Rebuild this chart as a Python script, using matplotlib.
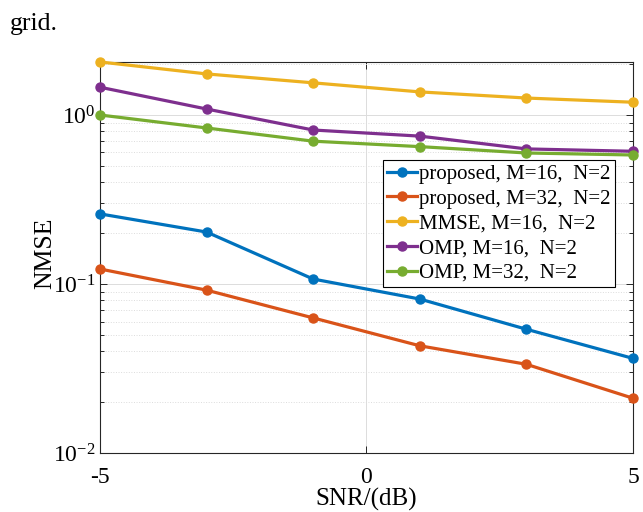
import matplotlib
matplotlib.use("Agg")
import matplotlib.pyplot as plt
from matplotlib.ticker import LogLocator, NullFormatter

plt.rcParams['font.family'] = ['Liberation Serif', 'DejaVu Serif']
plt.rcParams['mathtext.fontset'] = 'custom'
plt.rcParams['mathtext.rm'] = 'Liberation Serif'
plt.rcParams['mathtext.it'] = 'Liberation Serif:italic'
plt.rcParams['axes.unicode_minus'] = False

snr = [-5, -3, -1, 1, 3, 5]
proposed_m16 = [0.26, 0.203, 0.107, 0.0815, 0.054, 0.0363]
proposed_m32 = [0.1227, 0.092, 0.063, 0.0431, 0.0335, 0.0211]
mmse_m16 = [2.06, 1.75, 1.55, 1.37, 1.26, 1.19]
omp_m16 = [1.46, 1.085, 0.815, 0.75, 0.63, 0.61]
omp_m32 = [1.0, 0.838, 0.70, 0.65, 0.596, 0.58]

labels = ['proposed, M=16,  N=2', 'proposed, M=32,  N=2', 'MMSE, M=16,  N=2',
          'OMP, M=16,  N=2', 'OMP, M=32,  N=2']
colors = ['#0072BD', '#D95319', '#EDB120', '#7E2F8E', '#77AC30']
series = [proposed_m16, proposed_m32, mmse_m16, omp_m16, omp_m32]

fig = plt.figure(figsize=(6.43, 5.12), dpi=100)
ax = fig.add_axes([0.1555, 0.1152, 0.8289, 0.7638])

for ys, c, lab in zip(series, colors, labels):
    ax.plot(snr, ys, '-o', color=c, lw=2.3, ms=6.5, label=lab, clip_on=False, zorder=3)

ax.set_yscale('log')
ax.set_xlim(-5, 5)
ax.set_ylim(1e-2, 2.06)
ax.set_xticks([-5, 0, 5])
ax.set_xticklabels(['-5', '0', '5'])
ax.yaxis.set_major_locator(LogLocator(base=10, numticks=10))
ax.yaxis.set_minor_locator(LogLocator(base=10, subs=range(2, 10), numticks=20))
ax.yaxis.set_minor_formatter(NullFormatter())

ax.grid(True, which='major', color='#dcdcdc', lw=0.7, ls='-')
ax.grid(True, which='minor', axis='y', color='#dcdcdc', lw=0.7, ls=':')
ax.set_axisbelow(True)

ax.tick_params(which='both', direction='in', top=True, right=True, labelsize=17,
               color='#262626', width=0.7)
ax.tick_params(which='major', length=5)
ax.tick_params(which='minor', length=3)
ax.tick_params(axis='x', which='major', pad=10)
for s in ax.spines.values():
    s.set_color('#262626')
    s.set_linewidth(0.8)

ax.set_xlabel('SNR/(dB)', fontsize=18, labelpad=0)
ax.set_ylabel('NMSE', fontsize=18.5, labelpad=-3)
ax.yaxis.label.set_y(0.51)

leg = ax.legend(loc='upper right', bbox_to_anchor=(0.966, 0.749), fontsize=15,
                frameon=True, fancybox=False, edgecolor='black', framealpha=1,
                handlelength=1.45, handletextpad=0.1, borderpad=0.2,
                labelspacing=0.25, borderaxespad=0)
leg.get_frame().set_linewidth(0.8)

fig.text(10/643, 1 - 30/512, 'grid.', fontsize=18.5, ha='left', va='baseline')

fig.savefig('out.png', dpi=100)
